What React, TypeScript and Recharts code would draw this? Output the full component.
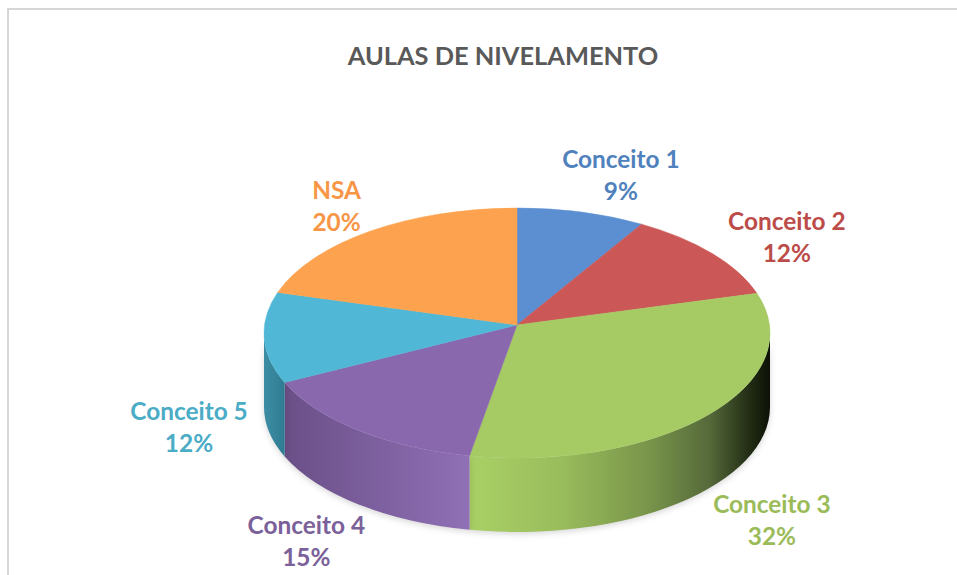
import { Pie, PieChart } from "recharts"

const categories = ["Conceito 1", "Conceito 2", "Conceito 3", "Conceito 4", "Conceito 5", "NSA"]
const percentages = [9, 12, 32, 15, 12, 20]
const topColors = ["#5B8FD1", "#CC5757", "#A6CA64", "#8A68AE", "#50B7D7", "#FDA24E"]
const labelColors = ["#4F81BD", "#BC4C4A", "#9BBB59", "#7A6199", "#4BACC6", "#F79646"]
const wallFills = ["none", "none", "url(#wallGreen)", "url(#wallPurple)", "url(#wallTeal)", "none"]

const data = categories.map((name, i) => ({
  name,
  value: percentages[i],
  fill: topColors[i],
  labelColor: labelColors[i],
  wall: wallFills[i],
}))

// projection of the flat pie onto the tilted disc
const APEX_X = 517
const APEX_Y = 325
const RX = 253
const RY = 125
const ELLIPSE_Y = 333
const DEPTH = 74
const TILT_TOP_RIGHT = 130
const TILT_TOP_LEFT = 106
const TILT_BOTTOM = 133

// label centre, relative to the rim point at the slice's middle
const labelNudges = [
  [40, -36],
  [76, -15],
  [68, 104],
  [-54, 111],
  [-75, 95],
  [-24, -28],
]

const rad = (d: number) => (d * Math.PI) / 180

// returns rim angle on the ellipse (degrees, clockwise from 3 o'clock, -90..270)
function rimAngle(chartAngle: number) {
  const theta = rad(90 - chartAngle)
  const sin = Math.sin(theta)
  const cos = Math.cos(theta)
  const tilt = cos < 0 ? TILT_BOTTOM : sin > 0 ? TILT_TOP_RIGHT : TILT_TOP_LEFT
  const oy = (APEX_Y - ELLIPSE_Y) / RY
  const ux = sin
  const uy = (-tilt * cos) / RY
  const a = ux * ux + uy * uy
  const b = 2 * oy * uy
  const c = oy * oy - 1
  const t = (-b + Math.sqrt(b * b - 4 * a * c)) / (2 * a)
  let phi = (Math.atan2(oy + uy * t, ux * t) * 180) / Math.PI
  if (phi < -90) phi += 360
  return phi
}

const rimPoint = (phi: number) => [APEX_X + RX * Math.cos(rad(phi)), ELLIPSE_Y + RY * Math.sin(rad(phi))]

function TiltedSlice(props: any) {
  const { startAngle, endAngle, fill, wall } = props
  const from = rimAngle(startAngle)
  let to = rimAngle(endAngle)
  if (to <= from) to += 360
  const [x0, y0] = rimPoint(from)
  const [x1, y1] = rimPoint(to)
  const large = to - from > 180 ? 1 : 0
  const top = `M${APEX_X},${APEX_Y} L${x0},${y0} A${RX},${RY} 0 ${large} 1 ${x1},${y1} Z`

  const wallFrom = Math.max(from, 0)
  const wallTo = Math.min(to, 180)
  let side = null
  if (wall !== "none" && wallTo > wallFrom) {
    const [a0, b0] = rimPoint(wallFrom)
    const [a1, b1] = rimPoint(wallTo)
    const d = `M${a0},${b0} A${RX},${RY} 0 0 1 ${a1},${b1} L${a1},${b1 + DEPTH} A${RX},${RY} 0 0 0 ${a0},${b0 + DEPTH} Z`
    side = <path d={d} fill={wall} stroke="none" style={{ filter: "drop-shadow(0 2px 3px rgba(0,0,0,0.16))" }} />
  }
  return (
    <g>
      {side}
      <path d={top} fill={fill} stroke={fill} strokeWidth={0.5} />
    </g>
  )
}

function SliceLabel(props: any) {
  const { midAngle, index, name, value, labelColor } = props
  const [x, y] = rimPoint(rimAngle(midAngle))
  const lx = x + labelNudges[index][0]
  const ly = y + labelNudges[index][1]
  return (
    <text x={lx} textAnchor="middle" fill={labelColor} fontFamily="Lato" fontWeight={700} fontSize={24.4}>
      <tspan x={lx} y={ly - 8}>{name}</tspan>
      <tspan x={lx} y={ly + 24}>{value}%</tspan>
    </text>
  )
}

export default function App() {
  return (
    <div style={{ position: "absolute", left: 0, top: 0, width: 957, height: 575, overflow: "hidden", background: "#fff" }}>
      <div style={{ position: "absolute", left: 7, top: 8, right: 0, bottom: 0, borderTop: "2px solid #d6d6d6", borderLeft: "2px solid #d6d6d6" }} />
      <div style={{ position: "absolute", left: 0, top: 0 }}>
        <PieChart width={957} height={575} margin={{ top: 0, right: 0, bottom: 0, left: 0 }}>
          <defs>
            <linearGradient id="wallGreen" x1="0" y1="0" x2="1" y2="0">
              <stop offset="0" stopColor="#A9D066" />
              <stop offset="0.3" stopColor="#9ABD5C" />
              <stop offset="0.6" stopColor="#78944A" />
              <stop offset="0.8" stopColor="#55693A" />
              <stop offset="0.94" stopColor="#1F2912" />
              <stop offset="1" stopColor="#0C1006" />
            </linearGradient>
            <linearGradient id="wallPurple" x1="0" y1="0" x2="1" y2="0">
              <stop offset="0" stopColor="#6A4F87" />
              <stop offset="1" stopColor="#9070B6" />
            </linearGradient>
            <linearGradient id="wallTeal" x1="0" y1="0" x2="1" y2="0">
              <stop offset="0" stopColor="#3C8DA4" />
              <stop offset="1" stopColor="#2F7C92" />
            </linearGradient>
          </defs>
          <text x={503} y={65} textAnchor="middle" fill="#595959" fontFamily="Lato" fontWeight={700} fontSize={25.4}>
            AULAS DE NIVELAMENTO
          </text>
          <Pie
            data={data}
            dataKey="value"
            nameKey="name"
            cx={APEX_X}
            cy={APEX_Y}
            outerRadius={RX}
            startAngle={90}
            endAngle={-270}
            stroke="none"
            shape={TiltedSlice}
            label={SliceLabel}
            labelLine={false}
            isAnimationActive={false}
          />
        </PieChart>
      </div>
    </div>
  )
}
